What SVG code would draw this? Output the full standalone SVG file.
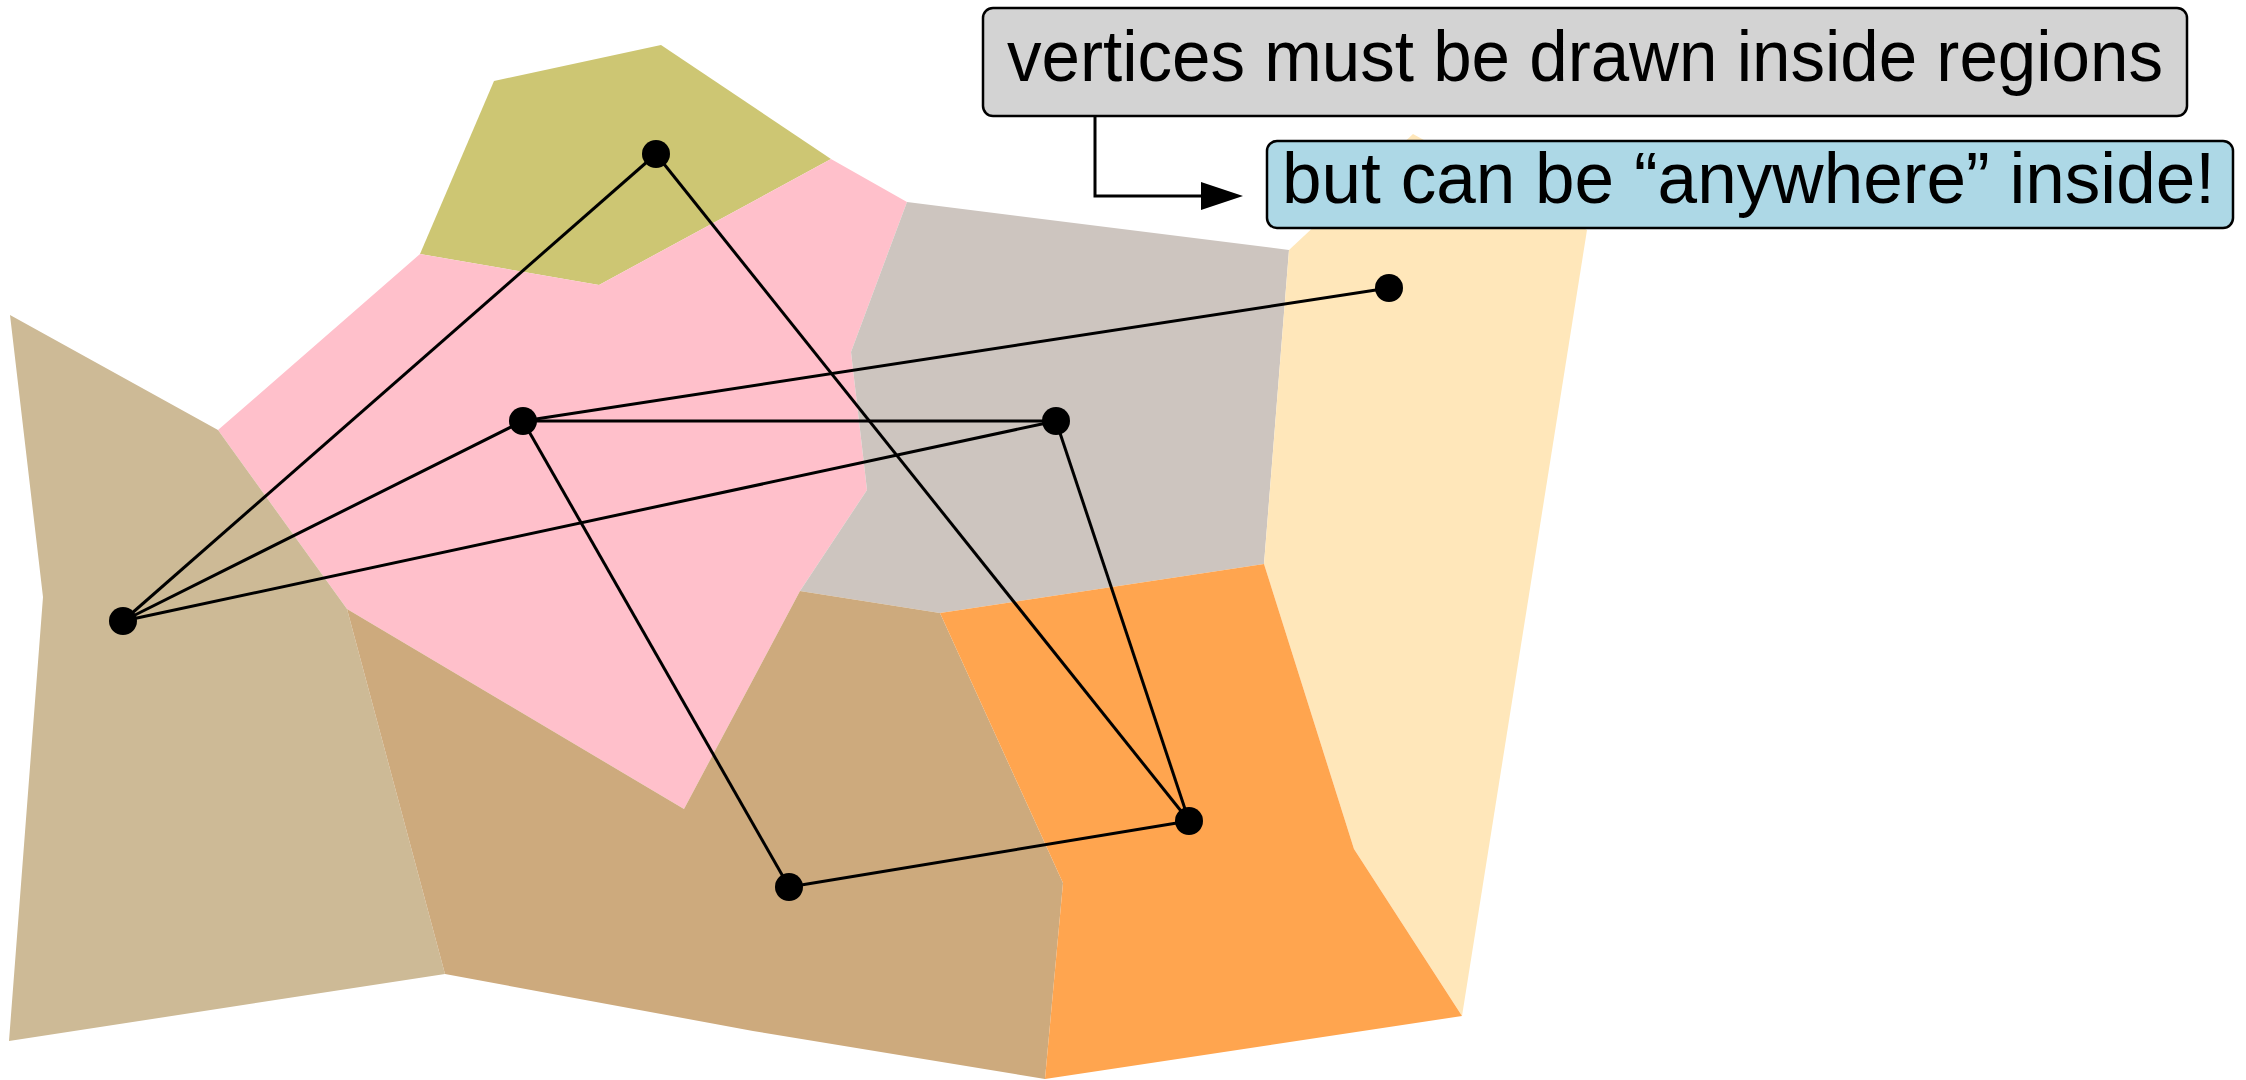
<svg xmlns="http://www.w3.org/2000/svg" width="2246" height="1080" viewBox="0 0 2246 1080">
<style>
.reg{stroke:none}
.edge{stroke:#000;stroke-width:3;fill:none}
.vtx{fill:#000}
.box{stroke:#000;stroke-width:2.5}
.lbl{font-family:"Liberation Sans","DejaVu Sans",sans-serif;font-size:72px;fill:#000}
</style>
<defs>
<marker id="arr" markerUnits="userSpaceOnUse" markerWidth="42" markerHeight="28" refX="0" refY="14" orient="auto" viewBox="0 0 42 28">
<path d="M0,0 L42,14 L0,28 Z" fill="#000"/>
</marker>
</defs>
<rect width="2246" height="1080" fill="#fff"/>
<g id="regions">
<polygon id="region-olive" class="reg" fill="#CDC673" points="494,81 661,45 831,159 599,285 420,254"/>
<polygon id="region-pink" class="reg" fill="#FFC0CB" points="420,254 599,285 831,159 907,202 851,352 867,490 800,591 684,809 347,609 218,430"/>
<polygon id="region-wheat" class="reg" fill="#CDBA96" points="10,315 218,430 347,609 445,974 9,1041 43,597"/>
<polygon id="region-gray" class="reg" fill="#CDC5BF" points="907,202 1289,250 1264,564 940,613 800,591 867,490 851,352"/>
<polygon id="region-lightorange" class="reg" fill="#FFE7BA" points="1289,250 1413,134 1587,230 1462,1016 1354,849 1264,564"/>
<polygon id="region-tan" class="reg" fill="#CDAA7D" points="347,609 684,809 800,591 940,613 1063,883 1045,1079 753,1031 445,974"/>
<polygon id="region-orange" class="reg" fill="#FFA54F" points="940,613 1264,564 1354,849 1462,1016 1045,1079 1063,883"/>
</g>
<g id="connectors">
<line class="edge" x1="656" y1="154" x2="123" y2="621"/>
<line class="edge" x1="656" y1="154" x2="1189" y2="821"/>
<line class="edge" x1="123" y1="621" x2="523" y2="421"/>
<line class="edge" x1="123" y1="621" x2="1056" y2="421"/>
<line class="edge" x1="523" y1="421" x2="1056" y2="421"/>
<line class="edge" x1="523" y1="421" x2="1389" y2="288"/>
<line class="edge" x1="523" y1="421" x2="789" y2="887"/>
<line class="edge" x1="1056" y1="421" x2="1189" y2="821"/>
<line class="edge" x1="789" y1="887" x2="1189" y2="821"/>
<path id="note-arrow" class="edge" d="M1095,117 L1095,196 L1201,196" marker-end="url(#arr)"/>
</g>
<g id="v-a"><circle class="vtx" cx="656" cy="154" r="14"/></g>
<g id="v-b"><circle class="vtx" cx="123" cy="621" r="14"/></g>
<g id="v-c"><circle class="vtx" cx="523" cy="421" r="14"/></g>
<g id="v-d"><circle class="vtx" cx="1056" cy="421" r="14"/></g>
<g id="v-e"><circle class="vtx" cx="1389" cy="288" r="14"/></g>
<g id="v-f"><circle class="vtx" cx="1189" cy="821" r="14"/></g>
<g id="v-g"><circle class="vtx" cx="789" cy="887" r="14"/></g>
<g id="note-1">
<rect class="box" x="983" y="8" width="1204" height="108" rx="10" fill="#D3D3D3"/>
<text class="lbl" x="1007" y="81" textLength="1156" lengthAdjust="spacingAndGlyphs">vertices must be drawn inside regions</text>
</g>
<g id="note-2">
<rect class="box" x="1267" y="141" width="966" height="87" rx="10" fill="#ADD8E6"/>
<text class="lbl" x="1282" y="203" textLength="933" lengthAdjust="spacingAndGlyphs">but can be “anywhere” inside!</text>
</g>
</svg>
